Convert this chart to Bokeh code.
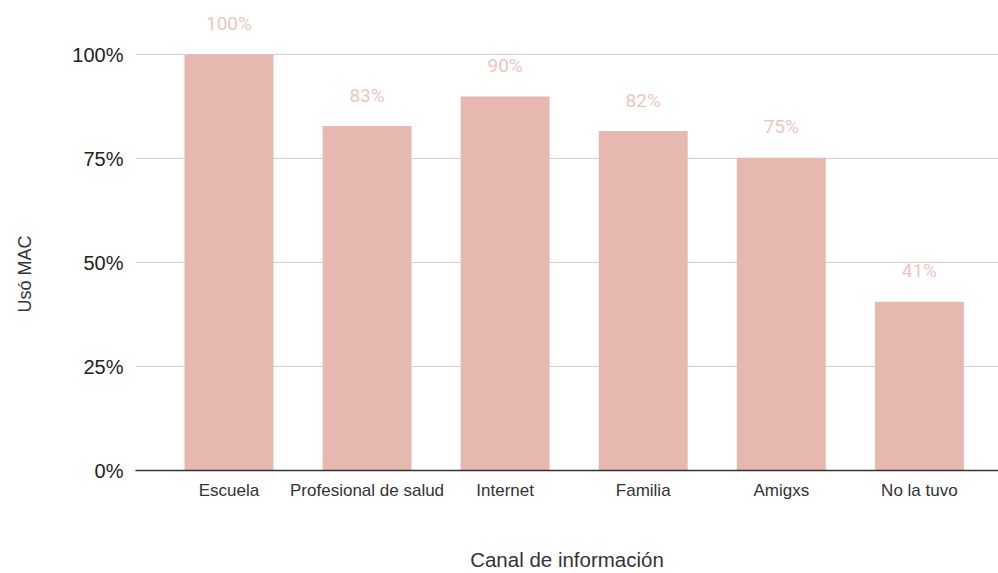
from bokeh.plotting import figure
from bokeh.models import ColumnDataSource, Range1d, FixedTicker, LabelSet, Title
from bokeh.core.properties import value
from bokeh.embed import file_html
from bokeh.resources import INLINE

categories = ["Escuela", "Profesional de salud", "Internet", "Familia", "Amigxs", "No la tuvo"]
values = [100, 82.8, 89.9, 81.6, 75.2, 40.6]
y_ticks = [0, 25, 50, 75, 100]
y_tick_labels = ["0%", "25%", "50%", "75%", "100%"]

xs = list(range(len(categories)))
src = ColumnDataSource(dict(x=xs, v=values, lab=[f"{round(v)}%" for v in values]))

p = figure(width=998, height=573, output_backend="svg", toolbar_location=None,
           x_range=Range1d(-0.677, 5.573), y_range=Range1d(0, 110.6),
           min_border_left=135, min_border_right=0, min_border_top=10, min_border_bottom=103)
p.outline_line_color = None
p.background_fill_color = "white"
p.border_fill_color = "white"

p.vbar(x="x", top="v", width=0.644, bottom=0, source=src, color="#e6b8af", line_color=None)

labels = LabelSet(x="x", y="v", text="lab", source=src, y_offset=31, text_align="center",
                  text_baseline="middle", text_color="#ebc6bf", text_font=value("Roboto"),
                  text_font_size="19px")
p.add_layout(labels)

p.xgrid.grid_line_color = None
p.ygrid.grid_line_color = "#d0d0d0"
p.ygrid.grid_line_width = 1
p.yaxis.ticker = FixedTicker(ticks=y_ticks)
p.yaxis.major_label_overrides = {t: l for t, l in zip(y_ticks, y_tick_labels)}
p.yaxis.axis_line_color = None
p.yaxis.major_tick_line_color = None
p.yaxis.minor_tick_line_color = None
p.yaxis.major_tick_out = 0
p.yaxis.major_label_standoff = 12
p.yaxis.major_label_text_font = "Liberation Sans"
p.yaxis.major_label_text_font_size = "20px"
p.yaxis.major_label_text_color = "#222222"

p.xaxis.ticker = FixedTicker(ticks=xs)
p.xaxis.major_label_overrides = {i: c for i, c in zip(xs, categories)}
p.xaxis.axis_line_color = "#333333"
p.xaxis.axis_line_width = 1.5
p.xaxis.major_tick_line_color = None
p.xaxis.minor_tick_line_color = None
p.xaxis.major_tick_out = 0
p.xaxis.major_label_standoff = 10
p.xaxis.major_label_text_font = "Liberation Sans"
p.xaxis.major_label_text_font_size = "17px"
p.xaxis.major_label_text_color = "#333333"
p.xaxis.axis_label = "Canal de información"
p.xaxis.axis_label_standoff = 45
p.xaxis.axis_label_text_font = "Liberation Sans"
p.xaxis.axis_label_text_font_size = "20.5px"
p.xaxis.axis_label_text_font_style = "normal"
p.xaxis.axis_label_text_color = "#333333"

spacer = Title(text=" ", text_font_size="1px", standoff=27)
p.add_layout(spacer, "left")
ytitle = Title(text="Usó MAC", align="left", offset=158, vertical_align="middle", standoff=8,
               text_font="Liberation Sans", text_font_size="18px", text_font_style="normal",
               text_color="#333333")
p.add_layout(ytitle, "left")

open("out.html", "w").write(file_html(p, INLINE))
